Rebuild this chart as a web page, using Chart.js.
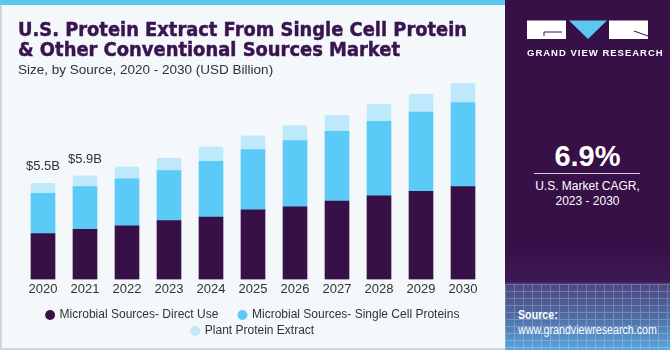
<!DOCTYPE html>
<html>
<head>
<meta charset="utf-8">
<script src="https://cdn.jsdelivr.net/npm/chart.js@4.4.1/dist/chart.umd.min.js"></script>
<style>
  html, body { margin: 0; padding: 0; }
  body { width: 670px; height: 350px; position: relative; overflow: hidden; background: #f4f8fb; font-family: "Liberation Sans", Arial, sans-serif; }
  #leftPanel { position: absolute; left: 0; top: 0; width: 505px; height: 350px; background: #f4f8fb; border-left: 2px solid #d4d6d8; border-bottom: 2px solid #d4d6d8; box-sizing: border-box; }
  #topStripe { position: absolute; left: 0; top: 0; width: 505px; height: 5px; background: #5cc8f2; }
  #chartCanvas { position: absolute; left: 0; top: 0; }
  .title { position: absolute; left: 18px; font-family: "DejaVu Sans", sans-serif; font-weight: bold; font-size: 19.5px; color: #3a1450; -webkit-text-stroke: 0.5px #3a1450; white-space: nowrap; transform-origin: 0 0; line-height: 1; }
  #subtitle { position: absolute; left: 18px; top: 62px; font-size: 13.5px; color: #333; white-space: nowrap; }
  #rightPanel { position: absolute; left: 505px; top: 0; width: 165px; height: 350px;
    background: linear-gradient(to bottom, #371047 0px, #371047 245px, #3d1a55 282px, #4b4680 284px, #4f6aa2 315px, #5aa6dc 350px); }
  #grid { position: absolute; left: 0; top: 284px; width: 165px; height: 66px; opacity: 0.22;
    background-image: repeating-linear-gradient(to right, #fff 0 1px, transparent 1px 9px), repeating-linear-gradient(to bottom, #fff 0 1px, transparent 1px 7px); }
  #brand { position: absolute; left: 22px; top: 47px; width: 121px; text-align: center; font-size: 9.5px; font-weight: bold; color: #fff; letter-spacing: 1px; white-space: nowrap; }
  #cagr { position: absolute; left: 0; top: 140px; width: 165px; text-align: center; font-size: 29px; font-weight: bold; color: #fff; }
  #rule { position: absolute; left: 29px; top: 173px; width: 106px; height: 1px; background: #d8cfe0; }
  #cagrText { position: absolute; left: 0; top: 179px; width: 165px; text-align: center; font-size: 12px; color: #fff; line-height: 15px; }
  #source { position: absolute; left: 13px; top: 308px; font-size: 12px; color: #fff; line-height: 15px; white-space: nowrap; transform: scaleX(0.89); transform-origin: 0 0; }
</style>
</head>
<body>
<div id="leftPanel"></div>
<div id="topStripe"></div>
<canvas id="chartCanvas" width="505" height="350"></canvas>
<div class="title" id="title1" style="top:20px">U.S. Protein Extract From Single Cell Protein</div>
<div class="title" id="title2" style="top:40px">&amp; Other Conventional Sources Market</div>
<div id="subtitle">Size, by Source, 2020 - 2030 (USD Billion)</div>

<div id="rightPanel">
  <div id="grid"></div>
  <svg style="position:absolute;left:22px;top:20px" width="122" height="20" viewBox="0 0 122 20">
    <rect x="0" y="0.5" width="39" height="18.5" fill="#fff"/>
    <polyline points="17,16 17,12 35,12" fill="none" stroke="#371047" stroke-width="1"/>
    <polygon points="42,0.5 80,0.5 61,19" fill="#5cc8f2"/>
    <rect x="82" y="0.5" width="39" height="18.5" fill="#fff"/>
    <line x1="107" y1="11" x2="121" y2="16" stroke="#371047" stroke-width="1"/>
  </svg>
  <div id="brand">GRAND VIEW RESEARCH</div>
  <div id="cagr">6.9%</div>
  <div id="rule"></div>
  <div id="cagrText">U.S. Market CAGR,<br>2023 - 2030</div>
  <div id="source"><b>Source:</b><br>www.grandviewresearch.com</div>
</div>

<script>
// chart data, USD billion
const years = ['2020', '2021', '2022', '2023', '2024', '2025', '2026', '2027', '2028', '2029', '2030'];
const directUse = [2.62, 2.85, 3.05, 3.36, 3.55, 3.97, 4.14, 4.47, 4.76, 5.02, 5.29];
const singleCell = [2.29, 2.44, 2.68, 2.84, 3.19, 3.44, 3.78, 3.97, 4.26, 4.53, 4.80];
const plantExtract = [0.57, 0.61, 0.69, 0.71, 0.82, 0.78, 0.86, 0.92, 0.97, 1.01, 1.09];
const seriesNames = ['Microbial Sources- Direct Use', 'Microbial Sources- Single Cell Proteins', 'Plant Protein Extract'];
const labelledYears = ['2020', '2021'];
const labelledTotals = ['$5.5B', '$5.9B'];

const FONT = '"Liberation Sans", Arial, sans-serif';

// fit title lines to the width they take in the picture
function squeeze(id, targetWidth) {
    const el = document.getElementById(id);
    const w = el.getBoundingClientRect().width;
    el.style.transform = 'scaleX(' + (targetWidth / w) + ')';
}
squeeze('title1', 449);
squeeze('title2', 382);

// Labels over the first bars
const totalLabelPlugin = {
    id: 'totalLabels',
    afterDatasetsDraw(chart) {
        const ctx = chart.ctx;
        const topMeta = chart.getDatasetMeta(2);
        ctx.save();
        ctx.font = '13px ' + FONT;
        ctx.fillStyle = '#333';
        ctx.textAlign = 'center';
        ctx.textBaseline = 'middle';
        labelledYears.forEach((year, i) => {
            const bar = topMeta.data[years.indexOf(year)];
            ctx.fillText(labelledTotals[i], bar.x, bar.y - 17);
        });
        ctx.restore();
    }
};

const chartCtx = document.getElementById('chartCanvas').getContext('2d');
const proteinChart = new Chart(chartCtx, {
    type: 'bar',
    data: {
        labels: years,
        datasets: [{
            label: seriesNames[0],
            data: directUse,
            backgroundColor: '#381048',
            barThickness: 24
        }, {
            label: seriesNames[1],
            data: singleCell,
            backgroundColor: '#5ccaf6',
            barThickness: 24
        }, {
            label: seriesNames[2],
            data: plantExtract,
            backgroundColor: '#bee9fa',
            barThickness: 24,
            borderRadius: {topLeft: 2, topRight: 2},
            borderSkipped: 'start'
        }]
    },
    options: {
        responsive: false,
        animation: false,
        layout: {
            padding: {top: 69, left: 22, right: 21, bottom: 3}
        },
        plugins: {
            legend: {
                position: 'bottom',
                onClick: null,
                labels: {
                    usePointStyle: true,
                    pointStyle: 'circle',
                    boxWidth: 7,
                    boxHeight: 7,
                    padding: 4,
                    color: '#333',
                    font: {size: 12, family: FONT},
                    generateLabels(chart) {
                        // extra spaces after the first item give the wider gap in row one
                        return Chart.defaults.plugins.legend.labels.generateLabels(chart)
                            .map((item, i) => Object.assign(item, {text: i === 0 ? item.text + '     ' : item.text}));
                    }
                }
            },
            tooltip: {enabled: false}
        },
        scales: {
            x: {
                stacked: true,
                grid: {display: false, drawTicks: false},
                border: {display: false},
                ticks: {color: '#333', padding: 2, font: {size: 13, family: FONT}},
                afterFit(scale) {
                    scale.height += 6;
                }
            },
            y: {
                stacked: true,
                display: false,
                min: 0,
                max: 12
            }
        }
    },
    plugins: [totalLabelPlugin]
});
</script>
</body>
</html>
